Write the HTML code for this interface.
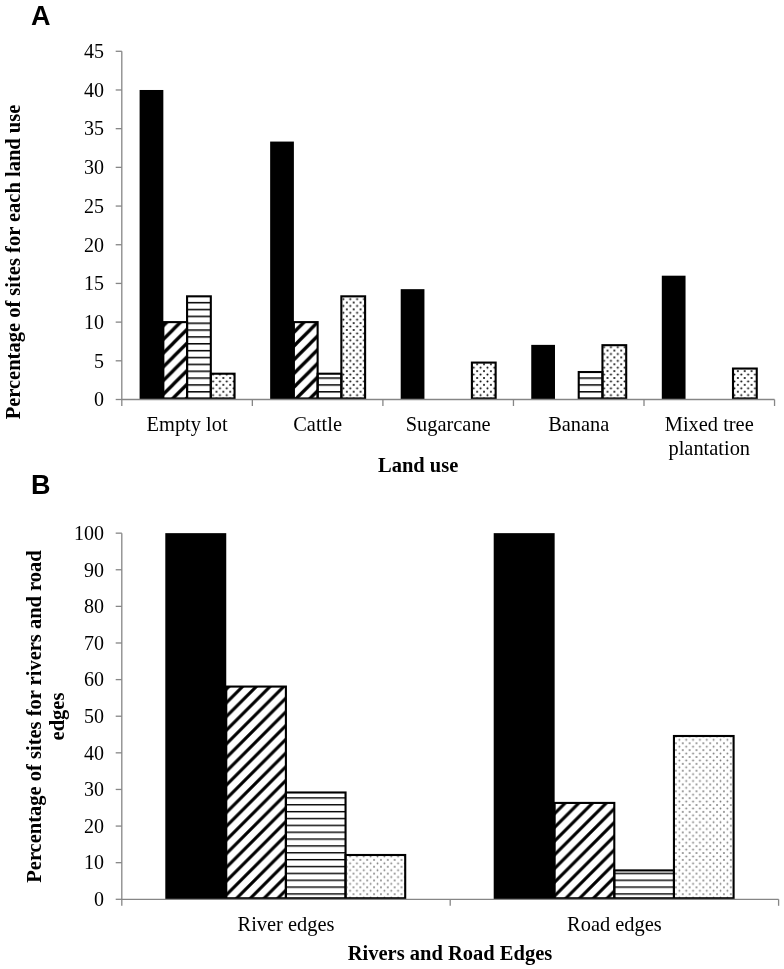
<!DOCTYPE html>
<html><head><meta charset="utf-8"><style>
html,body{margin:0;padding:0;background:#fff;}
svg{display:block;will-change:transform;}
text{font-family:"Liberation Serif",serif;fill:#000;}
.lbl{font-size:20.4px;}
.tick{font-size:20px;}
.ttl{font-size:20.5px;font-weight:bold;}
.pan{font-family:"Liberation Sans",sans-serif;font-size:27px;font-weight:bold;}
</style></head><body>
<svg width="784" height="969" viewBox="0 0 784 969">
<defs>
<pattern id="pDiag" patternUnits="userSpaceOnUse" x="8.80" y="0" width="13.72" height="13.72"><path d="M-11.72,-2.00 L-29.44,15.72 M2.00,-2.00 L-15.72,15.72 M15.72,-2.00 L-2.00,15.72 M29.44,-2.00 L11.72,15.72 " stroke="#000" stroke-width="3.3" fill="none"/></pattern>
<pattern id="pDiagB" patternUnits="userSpaceOnUse" x="9.90" y="0" width="13.72" height="13.72"><path d="M-11.72,-2.00 L-29.44,15.72 M2.00,-2.00 L-15.72,15.72 M15.72,-2.00 L-2.00,15.72 M29.44,-2.00 L11.72,15.72 " stroke="#000" stroke-width="3.1" fill="none"/></pattern>
<pattern id="pHor" patternUnits="userSpaceOnUse" x="0" y="0.05" width="6.86" height="6.86"><rect x="0" y="0" width="7.86" height="1.5" fill="#000"/></pattern>
<pattern id="pHorB" patternUnits="userSpaceOnUse" x="0" y="1.46" width="6.86" height="6.86"><rect x="0" y="0" width="7.86" height="1.4" fill="#000"/></pattern>
<pattern id="pDot" patternUnits="userSpaceOnUse" x="3.84" y="0.70" width="6.86" height="6.86"><circle cx="0" cy="0" r="1.0" fill="#000"/><circle cx="6.86" cy="0" r="1.0" fill="#000"/><circle cx="0" cy="6.86" r="1.0" fill="#000"/><circle cx="6.86" cy="6.86" r="1.0" fill="#000"/><circle cx="3.43" cy="3.43" r="1.0" fill="#000"/></pattern>
<pattern id="pDotB" patternUnits="userSpaceOnUse" x="3.64" y="2.40" width="6.86" height="6.86"><circle cx="0" cy="0" r="0.9" fill="#777"/><circle cx="6.86" cy="0" r="0.9" fill="#777"/><circle cx="0" cy="6.86" r="0.9" fill="#777"/><circle cx="6.86" cy="6.86" r="0.9" fill="#777"/><circle cx="3.43" cy="3.43" r="0.9" fill="#777"/></pattern>
</defs>
<rect width="784" height="969" fill="#fff"/>

<text class="pan" x="31" y="24.6">A</text>
<rect x="139.60" y="89.98" width="23.74" height="309.52" fill="#000"/>
<rect x="163.34" y="322.12" width="23.74" height="76.33" fill="url(#pDiag)" stroke="#000" stroke-width="2.1"/>
<rect x="187.07" y="296.33" width="23.74" height="102.12" fill="url(#pHor)" stroke="#000" stroke-width="2.1"/>
<rect x="210.81" y="373.71" width="23.74" height="24.74" fill="url(#pDot)" stroke="#000" stroke-width="2.1"/>
<rect x="270.15" y="141.57" width="23.74" height="257.93" fill="#000"/>
<rect x="293.89" y="322.12" width="23.74" height="76.33" fill="url(#pDiag)" stroke="#000" stroke-width="2.1"/>
<rect x="317.63" y="373.71" width="23.74" height="24.74" fill="url(#pHor)" stroke="#000" stroke-width="2.1"/>
<rect x="341.36" y="296.33" width="23.74" height="102.12" fill="url(#pDot)" stroke="#000" stroke-width="2.1"/>
<rect x="400.70" y="289.16" width="23.74" height="110.34" fill="#000"/>
<rect x="471.91" y="362.59" width="23.74" height="35.86" fill="url(#pDot)" stroke="#000" stroke-width="2.1"/>
<rect x="531.25" y="344.87" width="23.74" height="54.63" fill="#000"/>
<rect x="578.73" y="372.03" width="23.74" height="26.42" fill="url(#pHor)" stroke="#000" stroke-width="2.1"/>
<rect x="602.46" y="345.18" width="23.74" height="53.27" fill="url(#pDot)" stroke="#000" stroke-width="2.1"/>
<rect x="661.80" y="275.69" width="23.74" height="123.81" fill="#000"/>
<rect x="733.01" y="368.55" width="23.74" height="29.90" fill="url(#pDot)" stroke="#000" stroke-width="2.1"/>
<line x1="121.8" y1="51.29" x2="121.8" y2="406.00" stroke="#868686" stroke-width="1.3"/>
<line x1="115.70" y1="399.50" x2="121.8" y2="399.50" stroke="#868686" stroke-width="1.3"/>
<line x1="115.70" y1="360.81" x2="121.8" y2="360.81" stroke="#868686" stroke-width="1.3"/>
<line x1="115.70" y1="322.12" x2="121.8" y2="322.12" stroke="#868686" stroke-width="1.3"/>
<line x1="115.70" y1="283.43" x2="121.8" y2="283.43" stroke="#868686" stroke-width="1.3"/>
<line x1="115.70" y1="244.74" x2="121.8" y2="244.74" stroke="#868686" stroke-width="1.3"/>
<line x1="115.70" y1="206.05" x2="121.8" y2="206.05" stroke="#868686" stroke-width="1.3"/>
<line x1="115.70" y1="167.36" x2="121.8" y2="167.36" stroke="#868686" stroke-width="1.3"/>
<line x1="115.70" y1="128.67" x2="121.8" y2="128.67" stroke="#868686" stroke-width="1.3"/>
<line x1="115.70" y1="89.98" x2="121.8" y2="89.98" stroke="#868686" stroke-width="1.3"/>
<line x1="115.70" y1="51.29" x2="121.8" y2="51.29" stroke="#868686" stroke-width="1.3"/>
<line x1="121.8" y1="399.5" x2="774.55" y2="399.5" stroke="#868686" stroke-width="1.3"/>
<line x1="252.35" y1="399.5" x2="252.35" y2="406.00" stroke="#868686" stroke-width="1.3"/>
<line x1="382.90" y1="399.5" x2="382.90" y2="406.00" stroke="#868686" stroke-width="1.3"/>
<line x1="513.45" y1="399.5" x2="513.45" y2="406.00" stroke="#868686" stroke-width="1.3"/>
<line x1="644.00" y1="399.5" x2="644.00" y2="406.00" stroke="#868686" stroke-width="1.3"/>
<line x1="774.55" y1="399.5" x2="774.55" y2="406.00" stroke="#868686" stroke-width="1.3"/>
<text class="tick" x="103.9" y="406.30" text-anchor="end">0</text>
<text class="tick" x="103.9" y="367.61" text-anchor="end">5</text>
<text class="tick" x="103.9" y="328.92" text-anchor="end">10</text>
<text class="tick" x="103.9" y="290.23" text-anchor="end">15</text>
<text class="tick" x="103.9" y="251.54" text-anchor="end">20</text>
<text class="tick" x="103.9" y="212.85" text-anchor="end">25</text>
<text class="tick" x="103.9" y="174.16" text-anchor="end">30</text>
<text class="tick" x="103.9" y="135.47" text-anchor="end">35</text>
<text class="tick" x="103.9" y="96.78" text-anchor="end">40</text>
<text class="tick" x="103.9" y="58.09" text-anchor="end">45</text>
<text class="lbl" x="187.07" y="431.20" text-anchor="middle">Empty lot</text>
<text class="lbl" x="317.62" y="431.20" text-anchor="middle">Cattle</text>
<text class="lbl" x="448.18" y="431.20" text-anchor="middle">Sugarcane</text>
<text class="lbl" x="578.73" y="431.20" text-anchor="middle">Banana</text>
<text class="lbl" x="709.27" y="431.20" text-anchor="middle">Mixed tree</text>
<text class="lbl" x="709.27" y="454.80" text-anchor="middle">plantation</text>
<text class="ttl" x="418.2" y="471.6" text-anchor="middle">Land use</text>
<text class="ttl" transform="translate(20,262) rotate(-90)" text-anchor="middle">Percentage of sites for each land use</text>
<text class="pan" x="31" y="494.3">B</text>
<rect x="165.30" y="533.15" width="60.95" height="366.15" fill="#000"/>
<rect x="226.25" y="686.57" width="59.65" height="211.68" fill="url(#pDiagB)" stroke="#000" stroke-width="2.1"/>
<rect x="285.90" y="792.49" width="59.65" height="105.76" fill="url(#pHorB)" stroke="#000" stroke-width="2.1"/>
<rect x="345.55" y="855.00" width="59.65" height="43.25" fill="url(#pDotB)" stroke="#000" stroke-width="2.1"/>
<rect x="493.70" y="533.15" width="60.95" height="366.15" fill="#000"/>
<rect x="554.65" y="802.93" width="59.65" height="95.32" fill="url(#pDiagB)" stroke="#000" stroke-width="2.1"/>
<rect x="614.30" y="870.41" width="59.65" height="27.84" fill="url(#pHorB)" stroke="#000" stroke-width="2.1"/>
<rect x="673.95" y="736.00" width="59.65" height="162.25" fill="url(#pDotB)" stroke="#000" stroke-width="2.1"/>
<line x1="121.8" y1="533.15" x2="121.8" y2="905.80" stroke="#868686" stroke-width="1.3"/>
<line x1="115.70" y1="899.30" x2="121.8" y2="899.30" stroke="#868686" stroke-width="1.3"/>
<line x1="115.70" y1="862.68" x2="121.8" y2="862.68" stroke="#868686" stroke-width="1.3"/>
<line x1="115.70" y1="826.07" x2="121.8" y2="826.07" stroke="#868686" stroke-width="1.3"/>
<line x1="115.70" y1="789.45" x2="121.8" y2="789.45" stroke="#868686" stroke-width="1.3"/>
<line x1="115.70" y1="752.84" x2="121.8" y2="752.84" stroke="#868686" stroke-width="1.3"/>
<line x1="115.70" y1="716.22" x2="121.8" y2="716.22" stroke="#868686" stroke-width="1.3"/>
<line x1="115.70" y1="679.61" x2="121.8" y2="679.61" stroke="#868686" stroke-width="1.3"/>
<line x1="115.70" y1="642.99" x2="121.8" y2="642.99" stroke="#868686" stroke-width="1.3"/>
<line x1="115.70" y1="606.38" x2="121.8" y2="606.38" stroke="#868686" stroke-width="1.3"/>
<line x1="115.70" y1="569.76" x2="121.8" y2="569.76" stroke="#868686" stroke-width="1.3"/>
<line x1="115.70" y1="533.15" x2="121.8" y2="533.15" stroke="#868686" stroke-width="1.3"/>
<line x1="121.8" y1="899.3" x2="778.60" y2="899.3" stroke="#868686" stroke-width="1.3"/>
<line x1="450.20" y1="899.3" x2="450.20" y2="905.80" stroke="#868686" stroke-width="1.3"/>
<line x1="778.60" y1="899.3" x2="778.60" y2="905.80" stroke="#868686" stroke-width="1.3"/>
<text class="tick" x="104.1" y="906.10" text-anchor="end">0</text>
<text class="tick" x="104.1" y="869.48" text-anchor="end">10</text>
<text class="tick" x="104.1" y="832.87" text-anchor="end">20</text>
<text class="tick" x="104.1" y="796.25" text-anchor="end">30</text>
<text class="tick" x="104.1" y="759.64" text-anchor="end">40</text>
<text class="tick" x="104.1" y="723.02" text-anchor="end">50</text>
<text class="tick" x="104.1" y="686.41" text-anchor="end">60</text>
<text class="tick" x="104.1" y="649.79" text-anchor="end">70</text>
<text class="tick" x="104.1" y="613.18" text-anchor="end">80</text>
<text class="tick" x="104.1" y="576.56" text-anchor="end">90</text>
<text class="tick" x="104.1" y="539.95" text-anchor="end">100</text>
<text class="lbl" x="286.00" y="931.1" text-anchor="middle">River edges</text>
<text class="lbl" x="614.40" y="931.1" text-anchor="middle">Road edges</text>
<text class="ttl" x="450" y="959.7" text-anchor="middle">Rivers and Road Edges</text>
<text class="ttl" transform="translate(40.7,716.5) rotate(-90)" text-anchor="middle">Percentage of sites for rivers and road</text>
<text class="ttl" transform="translate(63.5,716.5) rotate(-90)" text-anchor="middle">edges</text>
</svg></body></html>
